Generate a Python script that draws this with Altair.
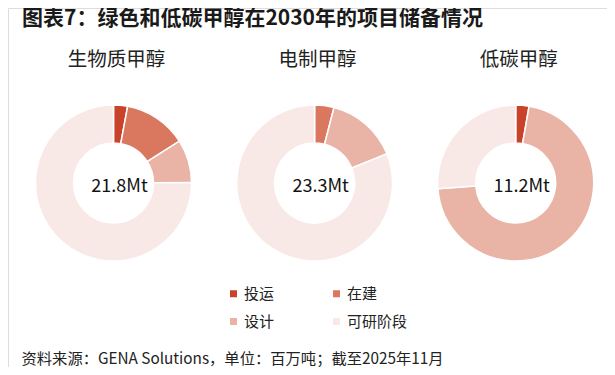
import altair as alt
import pandas as pd

# ---- data ----
donuts = ["生物质甲醇", "电制甲醇", "低碳甲醇"]
totals = ["21.8Mt", "23.3Mt", "11.2Mt"]
stages = ["投运", "在建", "设计", "可研阶段"]
colors = ["#c9432b", "#d9785f", "#e9b3a6", "#f8e9e7"]

# share of each stage (%) per donut
biomass = [2.9, 13.1, 8.9, 75.1]
electro = [0.0, 4.0, 14.9, 81.1]
lowcarbon = [2.75, 0.0, 71.1, 26.15]

title_text = "图表7：绿色和低碳甲醇在2030年的项目储备情况"
footer_text = "资料来源：GENA Solutions，单位：百万吨；截至2025年11月"

rows = []
for d, vals in zip(donuts, [biomass, electro, lowcarbon]):
    for i, (s, v) in enumerate(zip(stages, vals)):
        rows.append({"donut": d, "stage": s, "order": i, "value": v})
df = pd.DataFrame(rows)
labels_df = pd.DataFrame({"donut": donuts, "total": totals})

FONT = "Noto Sans CJK SC"
xscale = alt.Scale(type="point", domain=donuts, range=[105.5, 507.7], padding=0)

arcs = (
    alt.Chart(df)
    .transform_filter("datum.value > 0")
    .transform_joinaggregate(tot="sum(value)", groupby=["donut"])
    .transform_stack(stack="value", as_=["v0", "v1"], groupby=["donut"],
                     sort=[alt.SortField("order", order="ascending")])
    .transform_calculate(a0="datum.v0 / datum.tot * 2 * PI",
                         a1="datum.v1 / datum.tot * 2 * PI")
    .mark_arc(innerRadius=40, outerRadius=78, stroke="white", strokeWidth=1.5)
    .encode(
        x=alt.X("donut:N", scale=xscale, axis=None),
        y=alt.value(175),
        theta=alt.Theta("a0:Q", scale=None, stack=None),
        theta2=alt.Theta2("a1:Q"),
        color=alt.Color("stage:N", scale=alt.Scale(domain=stages, range=colors),
                        legend=alt.Legend(title=None, orient="none", direction="horizontal",
                                          legendX=218, legendY=278,
                                          columns=2, symbolType="square", symbolSize=49,
                                          symbolStrokeWidth=0, labelFontSize=15, labelFont=FONT,
                                          labelColor="#222222", labelOffset=3,
                                          columnPadding=54, rowPadding=12)),
        order=alt.Order("order:Q"),
    )
)

subtitles = (
    alt.Chart(labels_df)
    .mark_text(font=FONT, fontSize=19.5, color="#222222", dx=3, baseline="middle")
    .encode(x=alt.X("donut:N", scale=xscale, axis=None), y=alt.value(52), text="donut:N")
)

centers = (
    alt.Chart(labels_df)
    .mark_text(font=FONT, fontSize=18, color="#111111", dx=6, baseline="middle")
    .encode(x=alt.X("donut:N", scale=xscale, axis=None), y=alt.value(179), text="total:N")
)

title = (
    alt.Chart(pd.DataFrame({"t": [title_text]}))
    .mark_text(font=FONT, fontSize=21, fontWeight="bold", color="#1a1a1a", align="left", baseline="top")
    .encode(x=alt.value(14), y=alt.value(0), text="t:N")
)

footer = (
    alt.Chart(pd.DataFrame({"t": [footer_text]}))
    .mark_text(font=FONT, fontSize=15.3, color="#222222", align="left", baseline="middle")
    .encode(x=alt.value(13.5), y=alt.value(351), text="t:N")
)

chart = (
    alt.layer(arcs, subtitles, centers, title, footer)
    .properties(width=599, height=359, padding=0,
                autosize=alt.AutoSizeParams(type="none"))
    .configure_view(stroke=None)
    .configure(background="white")
)

chart.save("out.html", embed_options={"renderer": "svg", "actions": False})
